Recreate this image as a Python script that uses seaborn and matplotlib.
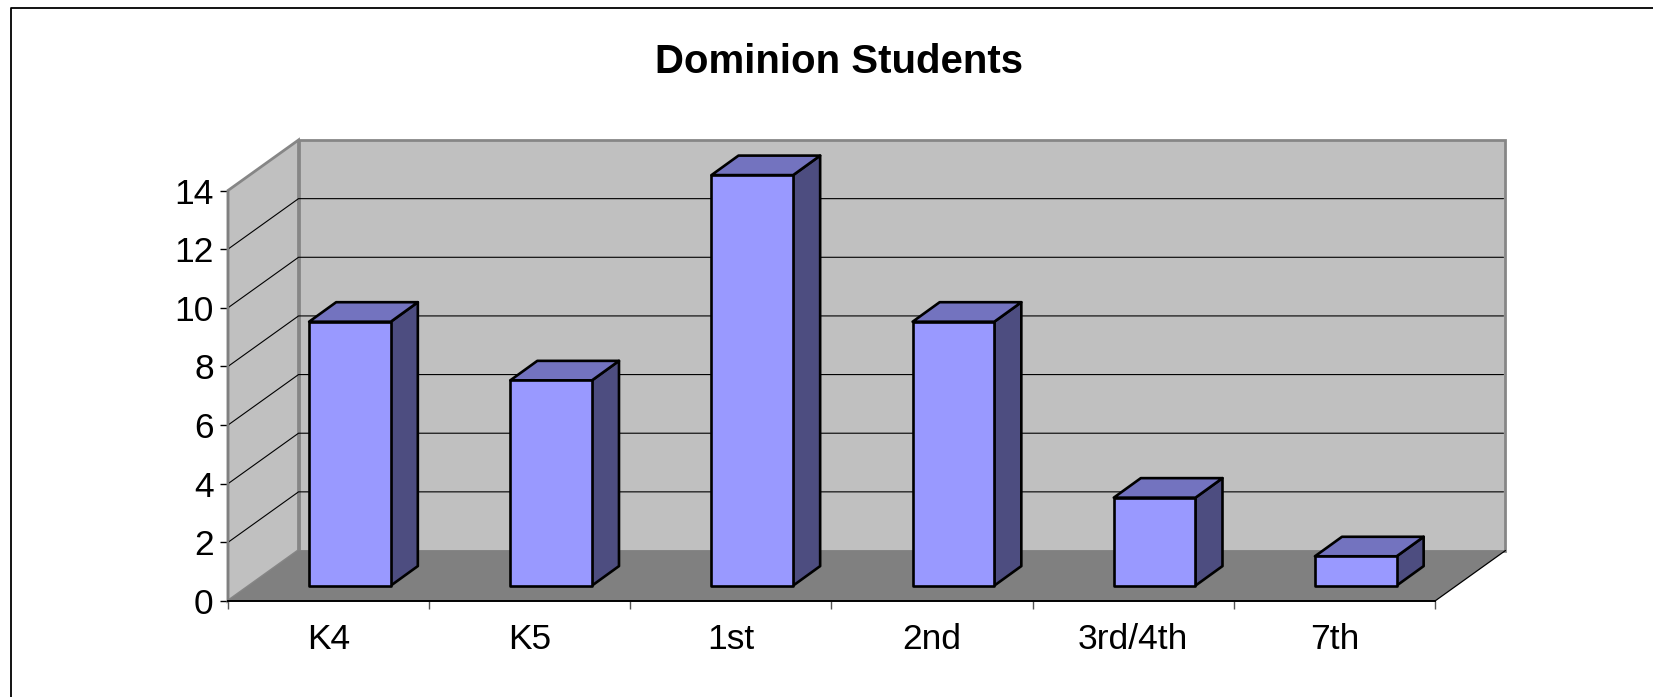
import matplotlib
matplotlib.use('Agg')
import matplotlib.pyplot as plt
import numpy as np
import pandas as pd
import seaborn as sns
from matplotlib.lines import Line2D
from matplotlib.patches import Polygon
from matplotlib.transforms import Affine2D

grades = ['K4', 'K5', '1st', '2nd', '3rd/4th', '7th']
students = [9, 7, 14, 9, 3, 1]
y_ticks = [0, 2, 4, 6, 8, 10, 12, 14]

FIG_W, FIG_H = 1653, 697
# front plane of the fake 3d box, in pixels
LEFT, RIGHT, BOTTOM, TOP = 228, 1435, 601, 190.5

FRONT = '#9999ff'
SIDE = '#4d4d80'
ROOF = '#7373bf'
WALL = '#c0c0c0'
FLOOR = '#808080'
EDGE_LW = 1.9

sns.set_theme(style='white')
plt.rcParams['font.family'] = ['Liberation Sans', 'DejaVu Sans']

fig = plt.figure(figsize=(FIG_W / 100, FIG_H / 100), dpi=100)
ax = fig.add_axes([LEFT / FIG_W, 1 - BOTTOM / FIG_H, (RIGHT - LEFT) / FIG_W, (BOTTOM - TOP) / FIG_H])
ax.patch.set_visible(False)

df = pd.DataFrame({'grade': grades, 'students': students})
sns.barplot(data=df, x='grade', y='students', color=FRONT, saturation=1, width=0.406,
            edgecolor='black', linewidth=EDGE_LW, ax=ax)

x_min, x_max = -0.5, len(grades) - 0.5
y_max = max(y_ticks)
ax.set_xlim(x_min, x_max)
ax.set_ylim(0, y_max)

# box depth in data units
per_x = (RIGHT - LEFT) / len(grades)
per_y = (BOTTOM - TOP) / y_max
dx, dy = 70.5 / per_x, 50.5 / per_y
# where the bars sit inside the depth, and how deep they are
off_x, off_y = 21.4 / per_x, 15.4 / per_y
bar_x, bar_y = 27 / per_x, 19.5 / per_y


def poly(points, **kw):
    ax.add_patch(Polygon(points, closed=True, clip_on=False, **kw))


# walls and floor
poly([(x_min, 0), (x_min + dx, dy), (x_min + dx, y_max + dy), (x_min, y_max)],
     facecolor=WALL, edgecolor='#868686', linewidth=2, zorder=1)
poly([(x_min + dx, dy), (x_max + dx, dy), (x_max + dx, y_max + dy), (x_min + dx, y_max + dy)],
     facecolor=WALL, edgecolor='#868686', linewidth=2, zorder=1)
poly([(x_min, 0), (x_max, 0), (x_max + dx, dy), (x_min + dx, dy)],
     facecolor=FLOOR, edgecolor='none', zorder=1.1)
ax.plot([x_max, x_max + dx], [0, dy], color='black', lw=0.9, clip_on=False, zorder=1.2)

# gridlines run along the side wall then the back wall
for v in y_ticks[1:-1]:
    ax.plot([x_min, x_min + dx, x_max + dx - 0.01], [v, v + dy, v + dy],
            color='black', lw=0.8, clip_on=False, zorder=1.3)

# push the seaborn bars back into the box and add the side and roof faces
shift = Affine2D().translate(off_x, off_y) + ax.transData
for bar in ax.patches:
    if not isinstance(bar, Polygon):
        x0, w, h = bar.get_x(), bar.get_width(), bar.get_height()
        bar.set_transform(shift)
        bar.set_clip_on(False)
        bar.set_zorder(5)
        bar.set_joinstyle('round')
        x1 = x0 + off_x
        x2 = x1 + w
        y0 = off_y
        poly([(x2, y0), (x2 + bar_x, y0 + bar_y), (x2 + bar_x, y0 + h + bar_y), (x2, y0 + h)],
             facecolor=SIDE, edgecolor='black', linewidth=EDGE_LW, joinstyle='round', zorder=4)
        poly([(x1, y0 + h), (x2, y0 + h), (x2 + bar_x, y0 + h + bar_y), (x1 + bar_x, y0 + h + bar_y)],
             facecolor=ROOF, edgecolor='black', linewidth=EDGE_LW, joinstyle='round', zorder=4)

for side in ['top', 'right']:
    ax.spines[side].set_visible(False)
ax.spines['left'].set_color('#808080')
ax.spines['left'].set_linewidth(1.6)
ax.spines['bottom'].set_color('black')
ax.spines['bottom'].set_linewidth(1.4)
ax.spines['left'].set_zorder(2)

ax.set_xlabel('')
ax.set_ylabel('')
ax.set_yticks(y_ticks)
ax.set_xticks(np.arange(len(grades)))
ax.set_xticklabels(grades)
ax.set_xticks(np.arange(len(grades) + 1) - 0.5, minor=True)
ax.tick_params(axis='y', left=True, length=5.8, width=1, color='black', labelsize=25.5, pad=4.5, labelcolor='black')
ax.tick_params(axis='x', which='major', bottom=False, length=0, labelsize=25.5, pad=15.5, labelcolor='black')
ax.tick_params(axis='x', which='minor', bottom=True, length=5.8, width=1, color='#555555')
for lab in ax.get_xticklabels():
    lab.set_x(lab.get_position()[0])

fig.text(839 / FIG_W, 1 - 73 / FIG_H, 'Dominion Students', fontsize=28.9, fontweight='bold',
         color='black', ha='center', va='baseline')

# chart area border, cropped on the right and at the bottom
fig.add_artist(Line2D([10.5 / FIG_W, 10.5 / FIG_W, 1], [0, 1 - 7.5 / FIG_H, 1 - 7.5 / FIG_H],
                      color='black', lw=1.3))

fig.savefig('out.png', dpi=100)
